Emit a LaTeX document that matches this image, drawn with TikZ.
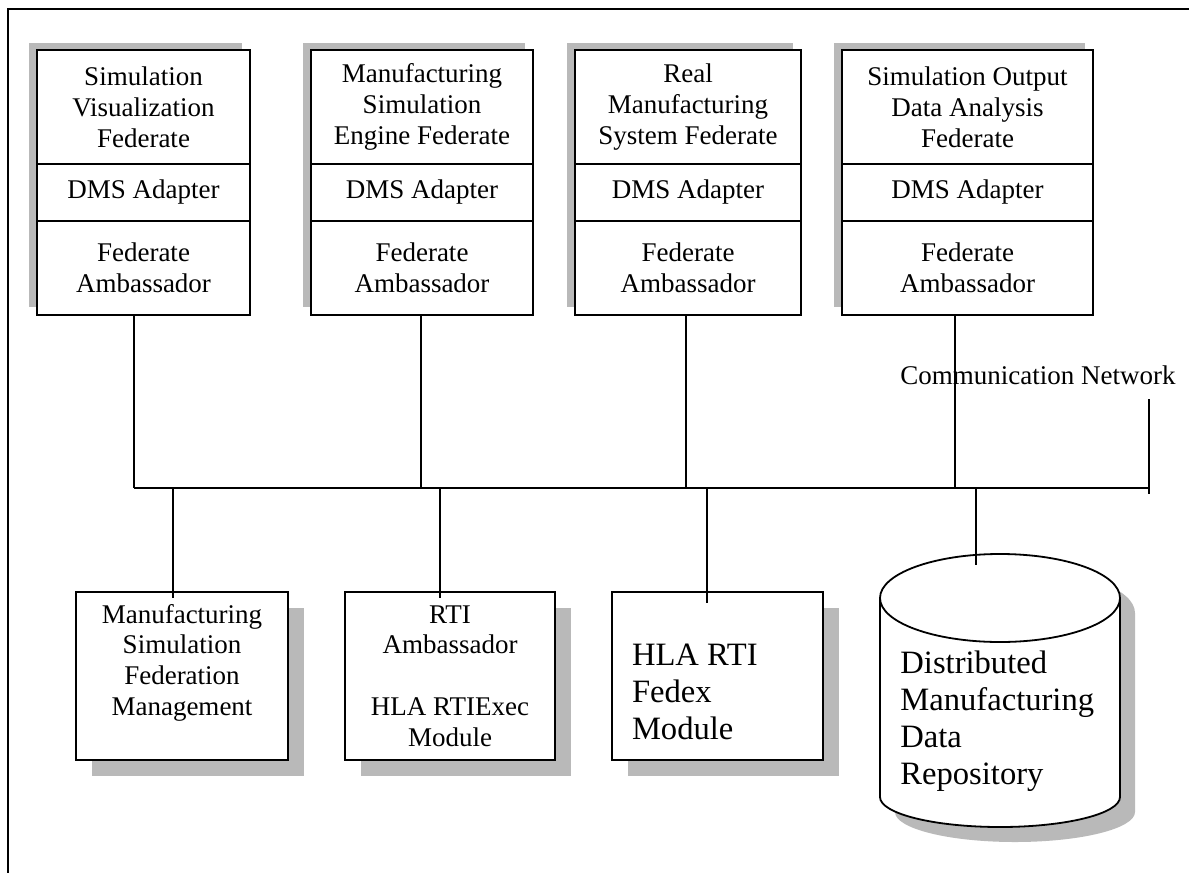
\documentclass[tikz,border=0pt]{standalone}
\usepackage{fontspec}
\setmainfont{Liberation Serif}
\usepackage{tikz}

\newcommand{\fedfont}{\fontsize{13.5}{15.4}\selectfont}
\newcommand{\repofont}{\fontsize{16.3}{18.5}\selectfont}

\tikzset{
  fedpart/.style={draw, fill=white, line width=0.9pt, inner sep=0pt, outer sep=0pt, align=center, font=\fedfont},
  lowbox/.style={draw, fill=white, line width=0.9pt, inner sep=0pt, outer sep=0pt, font=\fedfont},
  shadowfill/.style={fill=gray!55},
  wire/.style={line width=0.8pt},
}

\begin{document}
\begin{tikzpicture}[x=0.5pt,y=-0.5pt]
\useasboundingbox (0,0) rectangle (1189,873);
\draw[line width=0.8pt] (8,873) -- (8,9) -- (1189,9);

% shadows
\fill[shadowfill] (29,43) rectangle (242,307);
\fill[shadowfill] (303,43) rectangle (525,307);
\fill[shadowfill] (567,43) rectangle (793,307);
\fill[shadowfill] (834,43) rectangle (1085,307);
\fill[shadowfill] (92,608) rectangle (304,776);
\fill[shadowfill] (361,608) rectangle (571,776);
\fill[shadowfill] (628,608) rectangle (839,776);

% federates
\node[fedpart, minimum width=106.5pt, minimum height=57pt, anchor=north west] (svtitle) at (37,50) {Simulation\\Visualization\\Federate};
\node[fedpart, minimum width=106.5pt, minimum height=28.5pt, anchor=north] (svdms) at (svtitle.south) {DMS Adapter};
\node[fedpart, minimum width=106.5pt, minimum height=47pt, anchor=north] (svamb) at (svdms.south) {Federate\\Ambassador};

\node[fedpart, minimum width=111pt, minimum height=57pt, anchor=north west] (msetitle) at (311,50) {Manufacturing\\Simulation\\Engine Federate};
\node[fedpart, minimum width=111pt, minimum height=28.5pt, anchor=north] (msedms) at (msetitle.south) {DMS Adapter};
\node[fedpart, minimum width=111pt, minimum height=47pt, anchor=north] (mseamb) at (msedms.south) {Federate\\Ambassador};

\node[fedpart, minimum width=113pt, minimum height=57pt, anchor=north west] (rmstitle) at (575,50) {Real\\Manufacturing\\System Federate};
\node[fedpart, minimum width=113pt, minimum height=28.5pt, anchor=north] (rmsdms) at (rmstitle.south) {DMS Adapter};
\node[fedpart, minimum width=113pt, minimum height=47pt, anchor=north] (rmsamb) at (rmsdms.south) {Federate\\Ambassador};

\node[fedpart, minimum width=125.5pt, minimum height=57pt, anchor=north west] (sodatitle) at (842,50) {Simulation Output\\Data Analysis\\Federate};
\node[fedpart, minimum width=125.5pt, minimum height=28.5pt, anchor=north] (sodadms) at (sodatitle.south) {DMS Adapter};
\node[fedpart, minimum width=125.5pt, minimum height=47pt, anchor=north] (sodaamb) at (sodadms.south) {Federate\\Ambassador};

% lower modules
\node[lowbox] (mfm) at (182,676) {\parbox[c][84pt][t]{106pt}{\centering\vspace*{6pt}Manufacturing\\Simulation\\Federation\\Management}};
\node[lowbox, align=center, minimum width=105pt, minimum height=84pt] (rtiexec) at (450,676) {RTI\\Ambassador\\[15.4pt]HLA RTIExec\\Module};
\node[lowbox] (fedex) at (717.5,676) {\parbox[c][84pt][t]{105.5pt}{\repofont\raggedright\leftskip=10pt\vspace*{26pt}HLA RTI\\Fedex\\Module}};

% data repository
\begin{scope}[shift={(15,15)}]
\fill[shadowfill] (880,598) -- (880,797) arc[start angle=180, end angle=0, x radius=120, y radius=30] -- (1120,598) arc[start angle=0, end angle=-180, x radius=120, y radius=44] -- cycle;
\end{scope}
\draw[line width=0.9pt, fill=white] (880,598) -- (880,797) arc[start angle=180, end angle=0, x radius=120, y radius=30] -- (1120,598) arc[start angle=0, end angle=-180, x radius=120, y radius=44] -- cycle;
\draw[line width=0.9pt] (880,598) arc[start angle=180, end angle=0, x radius=120, y radius=44];
\node[font=\repofont, align=left, anchor=west, inner sep=0pt] (repo) at (900,721) {Distributed\\Manufacturing\\Data\\Repository};
\coordinate (cyltop) at (976,565);

% network
\node[font=\fedfont, anchor=west, inner sep=0pt] (netlabel) at (900,375) {Communication Network};
\coordinate (busL) at (134,488);
\coordinate (busR) at (1149,488);
\coordinate (netT) at (1149,399);
\coordinate (netB) at (1149,494);
\coordinate (j2) at (421,488);
\coordinate (j3) at (686,488);
\coordinate (j4) at (955,488);
\coordinate (k1) at (173,488);
\coordinate (k2) at (440,488);
\coordinate (k3) at (707,488);
\coordinate (k4) at (976,488);

\draw[wire] (busL) -- (busR);
\draw[wire] (netT) -- (netB);
\draw[wire] (svamb.south -| busL) -- (busL);
\draw[wire] (mseamb.south -| j2) -- (j2);
\draw[wire] (rmsamb.south -| j3) -- (j3);
\draw[wire] (sodaamb.south -| j4) -- (j4);
\draw[wire] (k1) -- (k1 |- mfm.north) -- ++(0,6);
\draw[wire] (k2) -- (k2 |- rtiexec.north) -- ++(0,6);
\draw[wire] (k3) -- (k3 |- fedex.north) -- ++(0,11);
\draw[wire] (k4) -- (cyltop);

\end{tikzpicture}
\end{document}
